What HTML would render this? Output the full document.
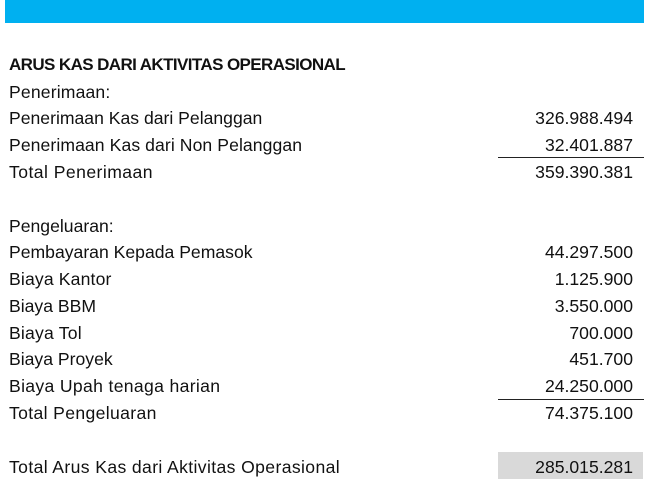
<!DOCTYPE html>
<html>
<head>
<meta charset="utf-8">
<style>
  html, body { margin:0; padding:0; background:#fff; }
  body { width:650px; height:500px; position:relative; overflow:hidden;
         font-family:"Liberation Sans", Arial, sans-serif; color:#111; }
  .bar { position:absolute; left:5px; top:0; width:639px; height:23px; background:#00b0f0; }
  .row { position:absolute; left:0; width:650px; height:26.78px; line-height:26.78px;
         font-size:17.6px; white-space:nowrap; }
  .lbl { position:absolute; left:9px; top:0; }
  .num { position:absolute; right:17px; top:0; text-align:right; }
  .title { font-weight:bold; font-size:17px; letter-spacing:-0.6px; }
  .line { position:absolute; left:498px; width:146px; height:1.4px; background:#222; }
  .gray { position:absolute; left:498px; top:452px; width:145px; height:27px; background:#d9d9d9; }
</style>
</head>
<body>
  <div class="bar"></div>
  <div class="gray"></div>
  <div class="line" style="top:156.6px"></div>
  <div class="line" style="top:398.6px"></div>

  <div class="row" style="top:51.8px"><span class="lbl title">ARUS KAS DARI AKTIVITAS OPERASIONAL</span></div>
  <div class="row" style="top:78.6px"><span class="lbl" style="letter-spacing:0.15px">Penerimaan:</span></div>
  <div class="row" style="top:105.4px"><span class="lbl">Penerimaan Kas dari Pelanggan</span><span class="num">326.988.494</span></div>
  <div class="row" style="top:132.1px"><span class="lbl" style="letter-spacing:0.08px">Penerimaan Kas dari Non Pelanggan</span><span class="num">32.401.887</span></div>
  <div class="row" style="top:158.9px"><span class="lbl" style="letter-spacing:0.44px">Total Penerimaan</span><span class="num">359.390.381</span></div>

  <div class="row" style="top:212.5px"><span class="lbl">Pengeluaran:</span></div>
  <div class="row" style="top:239.3px"><span class="lbl">Pembayaran Kepada Pemasok</span><span class="num">44.297.500</span></div>
  <div class="row" style="top:266.0px"><span class="lbl" style="letter-spacing:0.15px">Biaya Kantor</span><span class="num">1.125.900</span></div>
  <div class="row" style="top:292.8px"><span class="lbl">Biaya BBM</span><span class="num">3.550.000</span></div>
  <div class="row" style="top:319.6px"><span class="lbl" style="letter-spacing:0.2px">Biaya Tol</span><span class="num">700.000</span></div>
  <div class="row" style="top:346.4px"><span class="lbl">Biaya Proyek</span><span class="num">451.700</span></div>
  <div class="row" style="top:373.2px"><span class="lbl" style="letter-spacing:0.33px">Biaya Upah tenaga harian</span><span class="num">24.250.000</span></div>
  <div class="row" style="top:399.9px"><span class="lbl" style="letter-spacing:0.35px">Total Pengeluaran</span><span class="num">74.375.100</span></div>

  <div class="row" style="top:453.5px"><span class="lbl" style="letter-spacing:0.37px">Total Arus Kas dari Aktivitas Operasional</span><span class="num">285.015.281</span></div>
</body>
</html>
